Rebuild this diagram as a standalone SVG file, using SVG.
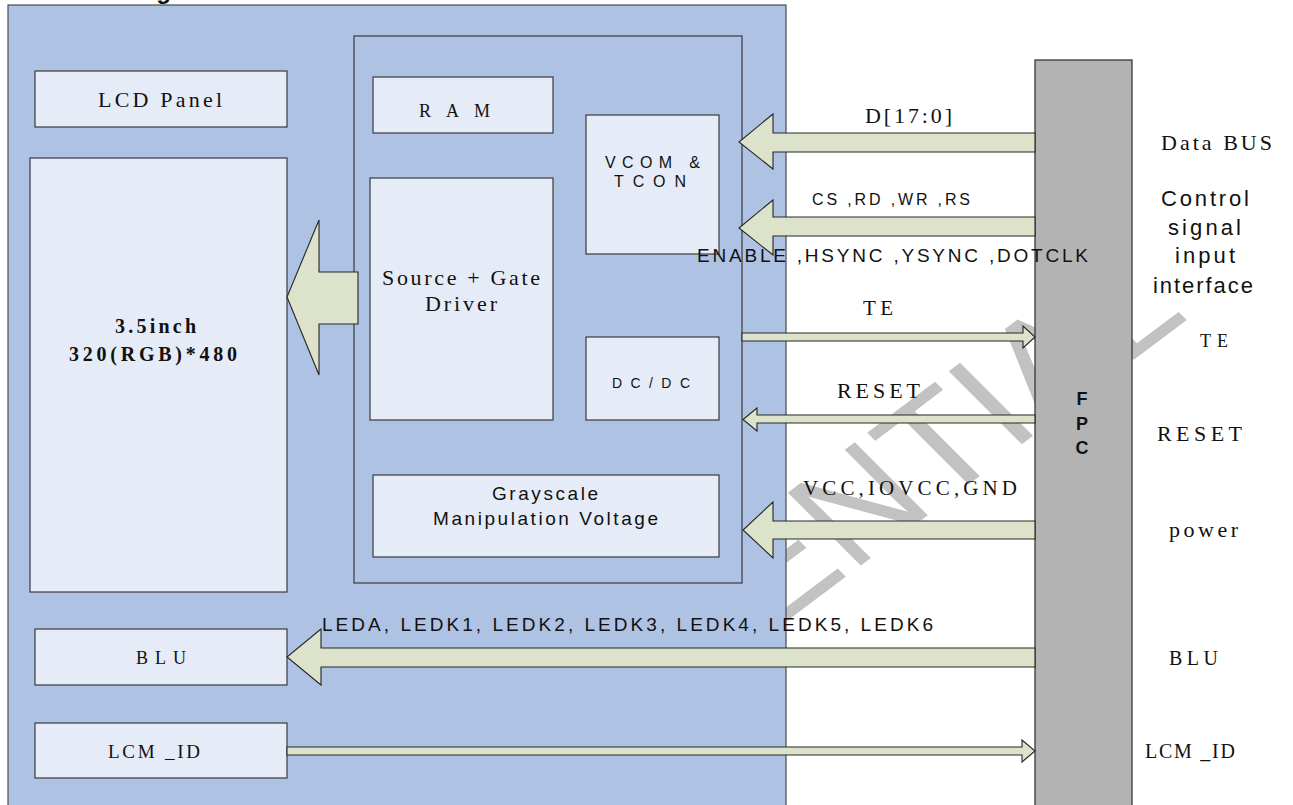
<svg xmlns="http://www.w3.org/2000/svg" width="1293" height="805" viewBox="0 0 1293 805">
<style>
.serif{font-family:"Liberation Serif","Times New Roman",serif;fill:#111}
.sans{font-family:"Liberation Sans",Arial,sans-serif;fill:#111}
.box{fill:#e6ecf7;stroke:#3a3a3a;stroke-width:1.2}
.arrow{fill:#dde2cb;stroke:#262626;stroke-width:1.1}
</style>
<rect x="0" y="0" width="1293" height="805" fill="#ffffff"/>
<text class="sans" x="47" y="-1.5" font-size="24" font-weight="bold">Block Diagram</text>
<g id="watermark">
<text transform="matrix(0.799,-0.602,0.707,0.707,311.7,979.2)" font-family="Liberation Sans, Arial, sans-serif" font-size="150" fill="#c2c2c2">CONFIDENTIAL</text>
</g>
<g id="module">
<rect x="8" y="5" width="778" height="812" fill="#aec2e3" stroke="#4a4a4a" stroke-width="1.2"/>
</g>
<g id="driver-ic">
<rect x="354" y="36" width="388" height="547" fill="#aec2e3" stroke="#3a3a3a" stroke-width="1.2"/>
</g>
<g id="fpc">
<rect x="1035" y="60" width="97" height="760" fill="#b3b3b3" stroke="#2a2a2a" stroke-width="1.2"/>
<text class="sans" x="1082" y="405" font-size="18" font-weight="bold" text-anchor="middle">F</text>
<text class="sans" x="1082" y="430" font-size="18" font-weight="bold" text-anchor="middle">P</text>
<text class="sans" x="1082" y="454" font-size="18" font-weight="bold" text-anchor="middle">C</text>
</g>
<g id="lcd-panel">
<rect class="box" x="35" y="71" width="252" height="56"/>
<text class="serif" x="98" y="107" font-size="22" textLength="124" lengthAdjust="spacing">LCD Panel</text>
</g>
<g id="panel-3-5inch">
<rect class="box" x="30" y="158" width="257" height="434"/>
<text class="serif" x="115" y="333" font-size="20" font-weight="bold" textLength="81" lengthAdjust="spacing">3.5inch</text>
<text class="serif" x="69" y="361" font-size="20" font-weight="bold" textLength="168" lengthAdjust="spacing">320(RGB)*480</text>
</g>
<g id="ram">
<rect class="box" x="373" y="77" width="180" height="56"/>
<text class="serif" x="419" y="117" font-size="18" textLength="71" lengthAdjust="spacing">RAM</text>
</g>
<g id="vcom-tcon">
<rect class="box" x="586" y="115" width="133" height="139"/>
<text class="sans" x="605" y="168" font-size="16" textLength="95" lengthAdjust="spacing">VCOM &amp;</text>
<text class="sans" x="614" y="187" font-size="16" textLength="72" lengthAdjust="spacing">TCON</text>
</g>
<g id="source-gate-driver">
<rect class="box" x="370" y="178" width="183" height="242"/>
<text class="serif" x="382" y="285" font-size="22" textLength="158" lengthAdjust="spacing">Source + Gate</text>
<text class="serif" x="425" y="311" font-size="22" textLength="72" lengthAdjust="spacing">Driver</text>
</g>
<g id="dcdc">
<rect class="box" x="586" y="337" width="133" height="83"/>
<text class="sans" x="612" y="388" font-size="14" textLength="78" lengthAdjust="spacing">DC/DC</text>
</g>
<g id="grayscale">
<rect class="box" x="373" y="475" width="346" height="82"/>
<text class="sans" x="492" y="500" font-size="19" textLength="106" lengthAdjust="spacing">Grayscale</text>
<text class="sans" x="433" y="525" font-size="19" textLength="225" lengthAdjust="spacing">Manipulation Voltage</text>
</g>
<g id="blu">
<rect class="box" x="35" y="629" width="252" height="56"/>
<text class="serif" x="136" y="664" font-size="18" textLength="50" lengthAdjust="spacing">BLU</text>
</g>
<g id="lcm-id">
<rect class="box" x="35" y="723" width="252" height="55"/>
<text class="serif" x="108" y="758" font-size="19" textLength="92" lengthAdjust="spacing">LCM _ID</text>
</g>
<g id="connectors">
<polygon class="arrow" points="358,272 319,272 319,220 287,297 319,375 319,324 358,324"/>
<polygon class="arrow" points="1035,133 773,133 773,114 739,142 773,169 773,152 1035,152"/>
<polygon class="arrow" points="1035,217 773,217 773,200 739,228 773,255 773,236 1035,236"/>
<polygon class="arrow" points="742,333 1023,333 1023,326 1035,337 1023,348 1023,341 742,341"/>
<polygon class="arrow" points="1035,415 757,415 757,408 743,419.5 757,431 757,423 1035,423"/>
<polygon class="arrow" points="1035,521 773,521 773,502 743,530 773,558 773,539 1035,539"/>
<polygon class="arrow" points="1035,648 321,648 321,629 287,657 321,685 321,667 1035,667"/>
<polygon class="arrow" points="287,747 1022,747 1022,740 1035,751 1022,762 1022,755 287,755"/>
</g>
<g id="labels">
<text class="serif" x="865" y="123" font-size="22" textLength="87" lengthAdjust="spacing">D[17:0]</text>
<text class="sans" x="812" y="205" font-size="16" textLength="158" lengthAdjust="spacing">CS ,RD ,WR ,RS</text>
<text class="sans" x="697" y="262" font-size="19" textLength="391" lengthAdjust="spacing">ENABLE ,HSYNC ,YSYNC ,DOTCLK</text>
<text class="serif" x="863" y="315" font-size="21" textLength="30" lengthAdjust="spacing">TE</text>
<text class="serif" x="837" y="398" font-size="22" textLength="83" lengthAdjust="spacing">RESET</text>
<text class="serif" x="803" y="495" font-size="21" textLength="214" lengthAdjust="spacing">VCC,IOVCC,GND</text>
<text class="sans" x="322" y="631" font-size="19" textLength="611" lengthAdjust="spacing">LEDA, LEDK1, LEDK2, LEDK3, LEDK4, LEDK5, LEDK6</text>
<text class="serif" x="1161" y="150" font-size="22" textLength="111" lengthAdjust="spacing">Data BUS</text>
<text class="sans" x="1161" y="206" font-size="22" textLength="88" lengthAdjust="spacing">Control</text>
<text class="sans" x="1168" y="235" font-size="22" textLength="73" lengthAdjust="spacing">signal</text>
<text class="sans" x="1175" y="263" font-size="22" textLength="60" lengthAdjust="spacing">input</text>
<text class="sans" x="1153" y="293" font-size="22" textLength="100" lengthAdjust="spacing">interface</text>
<text class="serif" x="1200" y="347" font-size="18" textLength="28" lengthAdjust="spacing">TE</text>
<text class="serif" x="1157" y="441" font-size="22" textLength="85" lengthAdjust="spacing">RESET</text>
<text class="serif" x="1169" y="537" font-size="22" textLength="69" lengthAdjust="spacing">power</text>
<text class="serif" x="1169" y="665" font-size="20" textLength="49" lengthAdjust="spacing">BLU</text>
<text class="serif" x="1145" y="758" font-size="20" textLength="90" lengthAdjust="spacing">LCM _ID</text>
</g>
</svg>
